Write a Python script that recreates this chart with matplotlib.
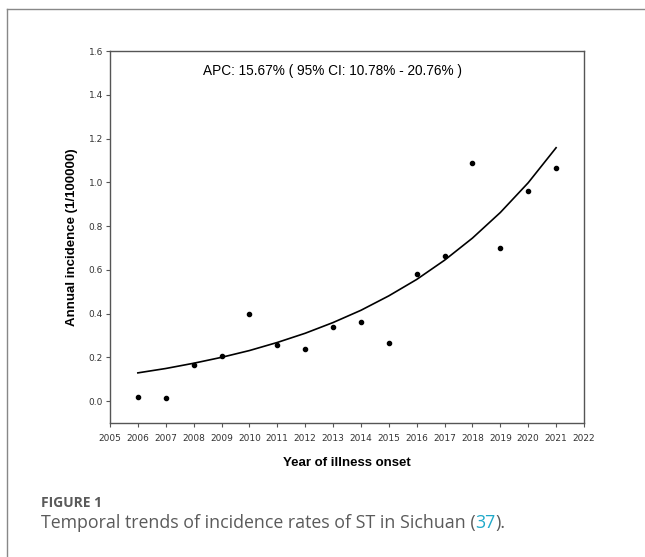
import matplotlib
matplotlib.use("Agg")
import matplotlib.pyplot as plt
from matplotlib.lines import Line2D

years = [2006, 2007, 2008, 2009, 2010, 2011, 2012, 2013,
         2014, 2015, 2016, 2017, 2018, 2019, 2020, 2021]
incidence = [0.02, 0.015, 0.165, 0.205, 0.40, 0.255, 0.24, 0.34,
             0.36, 0.265, 0.58, 0.665, 1.09, 0.70, 0.96, 1.065]
# fitted curve
fitted = [0.129, 0.149, 0.173, 0.200, 0.231, 0.268, 0.310, 0.359,
          0.415, 0.481, 0.556, 0.644, 0.745, 0.862, 0.998, 1.158]
xticks = list(range(2005, 2023))
yticks = [0.0, 0.2, 0.4, 0.6, 0.8, 1.0, 1.2, 1.4, 1.6]

fig = plt.figure(figsize=(6.45, 5.57), dpi=100)
ax = fig.add_axes([0.1705, 0.2406, 0.7349, 0.6678])

ax.plot(years, fitted, color="black", lw=1.2)
ax.scatter(years, incidence, s=9, color="black", zorder=3)

ax.set_xlim(2005, 2022)
ax.set_ylim(-0.1, 1.6)
ax.set_xticks(xticks)
ax.set_yticks(yticks)
ax.set_yticklabels(["%.1f" % v for v in yticks])
for s in ax.spines.values():
    s.set_color("#555555")
    s.set_linewidth(1.0)
ax.tick_params(labelsize=6.5, labelcolor="#333333", color="#555555",
               length=3, width=0.8)
ax.tick_params(axis="x", pad=5)
ax.tick_params(axis="y", pad=2)

ax.set_xlabel("Year of illness onset", fontsize=9.5, fontweight="bold",
              family="Liberation Sans", labelpad=10)
ax.set_ylabel("Annual incidence (1/100000)", fontsize=9.5, fontweight="bold",
              family="Liberation Sans", labelpad=8)

ax.text(0.47, 0.945, "APC: 15.67% ( 95% CI: 10.78% - 20.76% )",
        transform=ax.transAxes, ha="center", va="center",
        fontsize=9.8, family="Liberation Sans")

# frame around the figure panel
fig.add_artist(Line2D([6.5 / 645, 1], [1 - 9 / 557, 1 - 9 / 557],
                      color="#888888", lw=1.0, transform=fig.transFigure))
fig.add_artist(Line2D([6.5 / 645, 6.5 / 645], [0, 1 - 9 / 557],
                      color="#888888", lw=1.0, transform=fig.transFigure))

# caption
fig.text(41 / 645, 1 - 503 / 557, "FIGURE 1", fontsize=10, color="#5a5a5a",
         family="Open Sans", fontweight="bold", va="center")
parts = [("Temporal trends of incidence rates of ST in Sichuan (", "#5a5a5a"),
         ("37", "#1fa9c9"), (").", "#5a5a5a")]
fig.canvas.draw()
r = fig.canvas.get_renderer()
x = 41 / 645
for txt, col in parts:
    t = fig.text(x, 1 - 523 / 557, txt, fontsize=12.8, color=col,
                 family="Open Sans", va="center")
    bb = t.get_window_extent(renderer=r)
    x = bb.x1 / fig.bbox.width

fig.savefig("out.png", dpi=100)
